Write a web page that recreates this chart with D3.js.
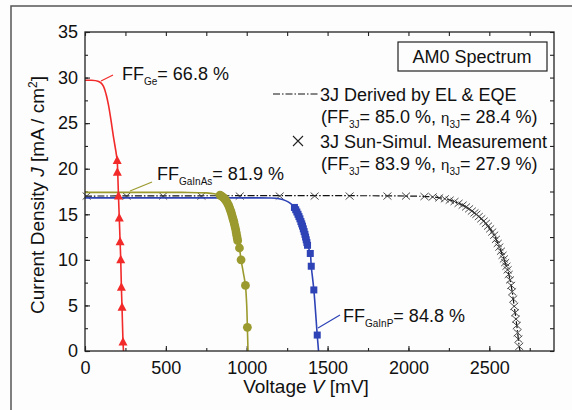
<!DOCTYPE html>
<html>
<head>
<meta charset="utf-8">
<script src="https://cdn.jsdelivr.net/npm/d3@7"></script>
<style>
  body { margin: 0; background: #fdfdfd; }
  svg { font-family: "Liberation Sans", Arial, sans-serif; }
  .tick text { font-size: 18px; fill: #111; }
  .tick line { stroke: #222; stroke-width: 1.1; }
</style>
</head>
<body>
<div id="chart"></div>
<script>
// Data: voltage [mV], current density [mA/cm2]
var xTicks = [0, 500, 1000, 1500, 2000, 2500];
var yTicks = [0, 5, 10, 15, 20, 25, 30, 35];

// Ge bottom cell (red, triangles)
var geLine = [[0, 29.7], [40, 29.7], [80, 29.6], [100, 29.4], [115, 29.0], [130, 28.2], [145, 27.0],
  [160, 25.4], [175, 23.6], [190, 22.0], [199, 20.9], [202, 19.8], [207, 17.0], [212, 14.6],
  [217, 12.0], [221, 10.0], [225, 7.0], [229, 4.8], [235, 1.0], [238, 0]];
var geMarks = [[199, 20.9], [200, 19.6], [207, 17.0], [212, 14.6], [217, 12.0], [221, 10.0],
  [225, 7.0], [229, 4.8], [235, 1.0]];

// GaInAs middle cell (olive, circles)
var gainasLine = [[0, 17.4], [600, 17.4], [750, 17.35], [800, 17.25], [840, 17.05], [870, 16.55],
  [890, 16.0], [905, 15.2], [918, 14.4], [932, 13.3], [944, 12.1], [955, 11.3], [965, 10.0],
  [980, 8.5], [992, 7.2], [1000, 5.0], [1004, 2.6], [1008, 0]];
var gainasMarks = [[835, 17.1], [845, 17.0], [855, 16.85], [863, 16.7], [870, 16.55], [877, 16.35],
  [883, 16.15], [889, 15.95], [894, 15.7], [899, 15.45], [904, 15.2], [908, 14.95], [912, 14.7],
  [916, 14.45], [920, 14.2], [924, 13.9], [928, 13.6], [932, 13.3], [935, 13.0], [938, 12.7],
  [941, 12.4], [944, 12.1], [955, 11.3], [965, 10.0], [992, 7.2], [1004, 2.6]];

// GaInP top cell (blue, squares)
var gainpLine = [[0, 16.8], [1000, 16.8], [1150, 16.78], [1200, 16.7], [1240, 16.5], [1270, 16.2],
  [1295, 15.75], [1317, 15.0], [1335, 14.2], [1350, 13.4], [1364, 12.5], [1376, 11.6],
  [1393, 10.7], [1399, 9.3], [1415, 6.7], [1436, 1.75], [1444, 0]];
var gainpMarks = [[1295, 15.75], [1303, 15.5], [1310, 15.25], [1317, 15.0], [1323, 14.75],
  [1329, 14.5], [1335, 14.2], [1340, 13.95], [1345, 13.7], [1350, 13.4], [1355, 13.1],
  [1360, 12.8], [1364, 12.5], [1368, 12.2], [1372, 11.9], [1376, 11.6], [1393, 10.7],
  [1399, 9.3], [1415, 6.7], [1436, 1.75]];

// 3J derived by EL & EQE (dash-dot)
var derivedLine = [[0, 17.0], [2000, 17.0], [2150, 16.9], [2250, 16.6], [2356, 15.8], [2420, 15.0],
  [2479, 14.0], [2530, 12.7], [2562, 11.4], [2590, 10.1], [2613, 8.9], [2635, 7.2],
  [2654, 4.9], [2670, 2.8], [2685, 0.5], [2690, 0]];

// 3J sun-simulator measurement (crosses)
var measuredMarks = [[10, 17.0], [257, 17.0], [483, 17.0], [720, 17.0], [957, 17.0], [1204, 17.0],
  [1420, 17.0], [1636, 17.0], [1870, 17.0], [1985, 17.0], [2099, 16.95], [2150, 16.9],
  [2190, 16.8], [2225, 16.7], [2255, 16.55], [2285, 16.4], [2310, 16.2], [2335, 16.0],
  [2356, 15.8], [2375, 15.6], [2392, 15.35], [2408, 15.15], [2420, 15.0], [2435, 14.75],
  [2450, 14.5], [2465, 14.25], [2479, 14.0], [2492, 13.7], [2505, 13.4], [2518, 13.05],
  [2530, 12.7], [2541, 12.25], [2552, 11.8], [2562, 11.4], [2572, 10.95], [2582, 10.5],
  [2590, 10.1], [2598, 9.7], [2606, 9.3], [2613, 8.9], [2620, 8.4], [2628, 7.8], [2635, 7.2],
  [2641, 6.5], [2648, 5.7], [2654, 4.9], [2659, 4.2], [2665, 3.5], [2670, 2.8], [2675, 2.0],
  [2680, 1.3], [2685, 0.5]];

// Colours
var red = "#f22a2a";
var olive = "#9b9a2e";
var blue = "#2e43b6";

// Define SVG
var svgWidth = 572;
var svgHeight = 410;

// Plot area in pixels
var plot = { left: 85, top: 32, right: 554, bottom: 351 };

var svg = d3.select("#chart")
  .append("svg")
  .attr("width", svgWidth)
  .attr("height", svgHeight);

// Outer figure frame (left and top edges only visible)
svg.append("path")
  .attr("d", "M11,410 L11,6 L572,6")
  .attr("fill", "none")
  .attr("stroke", "#555")
  .attr("stroke-width", 1.5);

// Scales
var x = d3.scaleLinear().domain([0, 2900]).range([plot.left, plot.right]);
var y = d3.scaleLinear().domain([0, 35]).range([plot.bottom, plot.top]);

var xMinor = d3.range(0, 2900, 250);
var yMinor = d3.range(0, 35.1, 2.5);

// Axes: major ticks with labels, minor ticks, ticks point inward on all sides
svg.append("g")
  .attr("transform", `translate(0, ${plot.bottom})`)
  .call(d3.axisBottom(x).tickValues(xTicks).tickFormat(d3.format("d"))
    .tickSizeInner(-5).tickSizeOuter(0).tickPadding(10))
  .call(g => g.select(".domain").remove());
svg.append("g")
  .attr("transform", `translate(0, ${plot.bottom})`)
  .call(d3.axisBottom(x).tickValues(xMinor).tickSizeInner(-3).tickSizeOuter(0).tickFormat(""))
  .call(g => g.select(".domain").remove());
svg.append("g")
  .attr("transform", `translate(0, ${plot.top})`)
  .call(d3.axisTop(x).tickValues(xMinor).tickSizeInner(-4).tickSizeOuter(0).tickFormat(""))
  .call(g => g.select(".domain").remove());

svg.append("g")
  .attr("transform", `translate(${plot.left}, 0)`)
  .call(d3.axisLeft(y).tickValues(yTicks).tickSizeInner(-5).tickSizeOuter(0).tickPadding(7))
  .call(g => g.select(".domain").remove());
svg.append("g")
  .attr("transform", `translate(${plot.left}, 0)`)
  .call(d3.axisLeft(y).tickValues(yMinor).tickSizeInner(-3).tickSizeOuter(0).tickFormat(""))
  .call(g => g.select(".domain").remove());
svg.append("g")
  .attr("transform", `translate(${plot.right}, 0)`)
  .call(d3.axisRight(y).tickValues(yMinor).tickSizeInner(-4).tickSizeOuter(0).tickFormat(""))
  .call(g => g.select(".domain").remove());

// Line generator
var line = d3.line()
  .x(d => x(d[0]))
  .y(d => y(d[1]))
  .curve(d3.curveCatmullRom.alpha(0.5));

// 3J derived (dash-dot black)
svg.append("path")
  .datum(derivedLine)
  .attr("d", line)
  .attr("fill", "none")
  .attr("stroke", "#111")
  .attr("stroke-width", 1.2)
  .attr("stroke-dasharray", "7,2,1.5,2");

// 3J measurement crosses
svg.append("g").selectAll("path")
  .data(measuredMarks)
  .enter().append("path")
  .attr("transform", d => `translate(${x(d[0])}, ${y(d[1])})`)
  .attr("d", "M-4,-3.5 L4,3.5 M-4,3.5 L4,-3.5")
  .attr("fill", "none")
  .attr("stroke", "#3a3a3a")
  .attr("stroke-width", 0.9);

// GaInP
svg.append("path")
  .datum(gainpLine)
  .attr("d", line)
  .attr("fill", "none")
  .attr("stroke", blue)
  .attr("stroke-width", 1.6);
svg.append("g").selectAll("rect")
  .data(gainpMarks)
  .enter().append("rect")
  .attr("x", d => x(d[0]) - 3.5)
  .attr("y", d => y(d[1]) - 3.5)
  .attr("width", 7)
  .attr("height", 7)
  .attr("fill", blue);

// GaInAs
svg.append("path")
  .datum(gainasLine)
  .attr("d", line)
  .attr("fill", "none")
  .attr("stroke", olive)
  .attr("stroke-width", 1.6);
svg.append("g").selectAll("circle")
  .data(gainasMarks)
  .enter().append("circle")
  .attr("cx", d => x(d[0]))
  .attr("cy", d => y(d[1]))
  .attr("r", 4.4)
  .attr("fill", olive);

// Ge
svg.append("path")
  .datum(geLine)
  .attr("d", line)
  .attr("fill", "none")
  .attr("stroke", red)
  .attr("stroke-width", 1.6);
svg.append("g").selectAll("path")
  .data(geMarks)
  .enter().append("path")
  .attr("transform", d => `translate(${x(d[0])}, ${y(d[1])})`)
  .attr("d", "M0,-5 L4.5,3.5 L-4.5,3.5 Z")
  .attr("fill", red);

// Plot frame
svg.append("rect")
  .attr("x", plot.left)
  .attr("y", plot.top)
  .attr("width", plot.right - plot.left)
  .attr("height", plot.bottom - plot.top)
  .attr("fill", "none")
  .attr("stroke", "#222")
  .attr("stroke-width", 1.3);

// FF annotations: label with subscript and a short pointer line
function ffLabel(px, py, sub, value, color, from, to) {
  svg.append("line")
    .attr("x1", from[0]).attr("y1", from[1])
    .attr("x2", to[0]).attr("y2", to[1])
    .attr("stroke", color)
    .attr("stroke-width", 1.2);
  var t = svg.append("text")
    .attr("x", px)
    .attr("y", py)
    .attr("font-size", 18)
    .attr("fill", "#111");
  t.append("tspan").text("FF");
  t.append("tspan").attr("font-size", 10).attr("dy", 5).text(sub);
  t.append("tspan").attr("dy", -5).text("= " + value);
}
ffLabel(122, 80, "Ge", "66.8 %", red, [101, 81], [113, 75]);
ffLabel(157, 180, "GaInAs", "81.9 %", olive, [130, 191], [152, 182]);
ffLabel(343, 322, "GaInP", "84.8 %", blue, [318, 328], [340, 315]);

// AM0 Spectrum box
svg.append("rect")
  .attr("x", 398)
  .attr("y", 42)
  .attr("width", 149)
  .attr("height", 29)
  .attr("fill", "none")
  .attr("stroke", "#222")
  .attr("stroke-width", 1.2);
svg.append("text")
  .attr("x", 472)
  .attr("y", 63)
  .attr("text-anchor", "middle")
  .attr("font-size", 18)
  .attr("fill", "#111")
  .text("AM0 Spectrum");

// Legend
svg.append("line")
  .attr("x1", 273).attr("y1", 94)
  .attr("x2", 318).attr("y2", 94)
  .attr("stroke", "#111")
  .attr("stroke-width", 1.2)
  .attr("stroke-dasharray", "7,2,1.5,2");
svg.append("path")
  .attr("transform", "translate(298, 141)")
  .attr("d", "M-5,-5 L5,5 M-5,5 L5,-5")
  .attr("fill", "none")
  .attr("stroke", "#222")
  .attr("stroke-width", 1.1);

svg.append("text")
  .attr("x", 320).attr("y", 101)
  .attr("font-size", 18).attr("fill", "#111")
  .text("3J Derived by EL & EQE");
svg.append("text")
  .attr("x", 320).attr("y", 148)
  .attr("font-size", 18).attr("fill", "#111")
  .text("3J Sun-Simul. Measurement");

function ffEta(py, ff, eta) {
  var t = svg.append("text")
    .attr("x", 321)
    .attr("y", py)
    .attr("font-size", 18)
    .attr("fill", "#111");
  t.append("tspan").text("(FF");
  t.append("tspan").attr("font-size", 10).attr("dy", 5).text("3J");
  t.append("tspan").attr("dy", -5).text("= " + ff + ", ");
  t.append("tspan").attr("font-size", 15).text("η");
  t.append("tspan").attr("font-size", 10).attr("dy", 5).text("3J");
  t.append("tspan").attr("dy", -5).text("= " + eta + ")");
}
ffEta(123, "85.0 %", "28.4 %");
ffEta(170, "83.9 %", "27.9 %");

// Axis titles
var xTitle = svg.append("text")
  .attr("x", 306)
  .attr("y", 393)
  .attr("text-anchor", "middle")
  .attr("font-size", 19)
  .attr("fill", "#111");
xTitle.append("tspan").text("Voltage ");
xTitle.append("tspan").attr("font-style", "italic").text("V");
xTitle.append("tspan").text(" [mV]");

var yTitle = svg.append("text")
  .attr("transform", "translate(44, 195) rotate(-90)")
  .attr("text-anchor", "middle")
  .attr("font-size", 19)
  .attr("fill", "#111");
yTitle.append("tspan").text("Current Density ");
yTitle.append("tspan").attr("font-style", "italic").text("J");
yTitle.append("tspan").text(" [mA / cm");
yTitle.append("tspan").attr("font-size", 12).attr("dy", -7).text("2");
yTitle.append("tspan").attr("dy", 7).text("]");
</script>
</body>
</html>
